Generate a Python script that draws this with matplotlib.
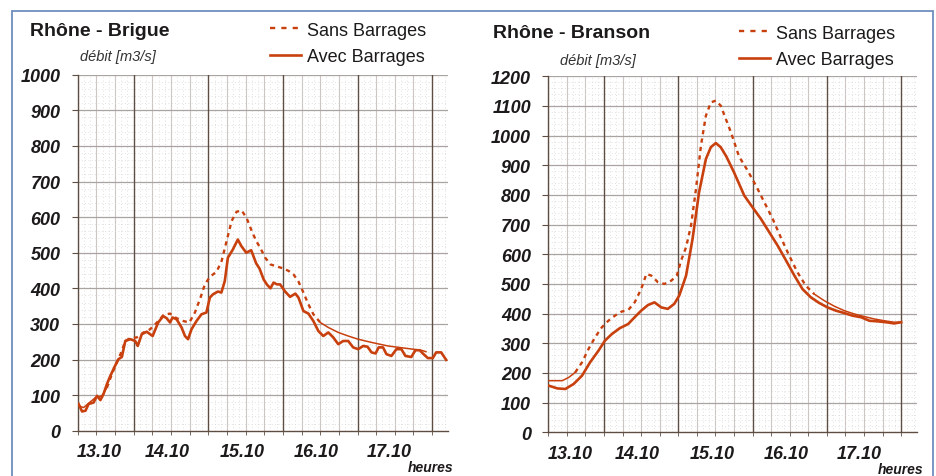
import numpy as np
import matplotlib.pyplot as plt
from matplotlib.lines import Line2D
from matplotlib.patches import Rectangle

plt.rcParams['font.family'] = ['Liberation Sans', 'DejaVu Sans']

# time axis: hours counted from 13.10 00:00
brigue_sans_h = [6.3, 7.9, 9.5, 11.7, 13.8, 15.4, 17.0, 18.6, 20.2, 21.3, 22.9, 25.0, 27.2, 29.3,
                 31.5, 33.6, 35.7, 37.8, 40.0, 41.9, 43.7, 45.5, 46.9, 48.5, 50.7, 52.3, 53.9, 55.5,
                 57.1, 58.7, 60.3, 62.2, 63.6, 64.7, 66.3, 68.0, 69.5, 72.0, 73.8, 75.4, 77.0, 78.6,
                 80.2, 81.8, 84.0, 86.6, 89.8, 93.0, 96.2, 100.5, 105.8, 111.1, 116.5, 118.0]
brigue_sans_q = [70, 65, 77, 93, 98, 121, 159, 192, 224, 252, 260, 262, 276, 285,
                 304, 325, 329, 316, 308, 304, 332, 374, 411, 432, 447, 477, 533, 589,
                 615, 619, 598, 556, 530, 514, 486, 467, 463, 456, 449, 439, 419, 388,
                 355, 327, 304, 290, 276, 266, 257, 248, 238, 232, 226, 222]

brigue_avec_h = [6.3, 7.4, 8.5, 9.5, 11.1, 12.2, 13.3, 14.3, 15.4, 16.5, 18.0, 19.1, 20.2, 21.3,
                 22.9, 24.5, 25.3, 26.6, 28.2, 29.3, 30.1, 31.9, 33.5, 34.6, 35.7, 36.5, 37.8, 39.4,
                 40.5, 41.5, 42.6, 44.2, 45.8, 47.4, 48.5, 49.5, 51.1, 52.2, 53.3, 54.3, 55.9, 57.5,
                 58.6, 60.2, 61.8, 63.4, 64.5, 65.8, 66.9, 68.0, 69.0, 70.1, 71.1, 72.7, 74.3, 76.0,
                 77.0, 78.6, 80.2, 81.8, 83.4, 85.0, 86.6, 88.2, 89.8, 91.4, 93.0, 94.6, 96.2, 97.8,
                 99.2, 100.5, 101.8, 102.8, 104.2, 105.3, 106.9, 108.5, 110.1, 111.4, 113.3, 114.6,
                 116.0, 117.0, 118.6, 120.2, 121.3, 122.9, 124.5]
brigue_avec_q = [75, 54, 56, 75, 79, 98, 86, 103, 131, 154, 182, 201, 207, 252,
                 257, 252, 238, 271, 278, 271, 266, 304, 322, 316, 304, 318, 313, 290,
                 266, 257, 285, 308, 327, 332, 374, 383, 391, 388, 420, 486, 509, 537,
                 519, 500, 507, 470, 455, 425, 410, 400, 416, 411, 411, 391, 376, 385,
                 374, 336, 329, 308, 280, 266, 276, 262, 243, 252, 252, 234, 229, 238,
                 236, 220, 217, 234, 234, 215, 210, 229, 229, 210, 207, 226,
                 226, 217, 204, 204, 220, 220, 199]

branson_sans_h = [6.2, 8.3, 10.5, 12.6, 14.7, 16.9, 19.0, 21.1, 23.3, 25.4, 27.5, 29.7, 31.8, 33.9,
                  36.0, 37.7, 39.3, 41.4, 43.5, 45.7, 47.5, 48.9, 50.5, 52.1, 53.7, 55.3, 56.9, 58.5,
                  60.1, 61.7, 63.2, 65.0, 67.6, 70.4, 73.1, 75.8, 78.5, 81.1, 83.8, 86.5, 89.2, 91.9,
                  95.1, 98.4, 101.6, 104.8, 108.1, 111.3, 114.5, 117.7, 120.0]
branson_sans_q = [174, 174, 174, 185, 202, 236, 281, 320, 354, 376, 393, 407, 412, 438,
                  483, 534, 528, 506, 500, 511, 528, 579, 624, 697, 820, 966, 1067, 1112,
                  1118, 1101, 1060, 1011, 930, 882, 831, 775, 719, 657, 596, 539, 494, 466,
                  444, 425, 410, 399, 390, 382, 376, 371, 371]

branson_avec_h = [6.2, 8.9, 11.5, 14.2, 16.9, 19.5, 22.2, 24.3, 26.5, 29.1, 31.8, 33.9, 36.0, 38.2,
                  40.3, 42.5, 44.6, 46.7, 48.3, 50.5, 52.6, 54.7, 56.9, 58.5, 60.1, 61.7, 63.5, 66.0,
                  69.3, 72.0, 74.7, 77.4, 80.1, 82.8, 85.5, 88.1, 90.8, 93.5, 96.2, 98.9, 101.6, 104.3,
                  107.0, 109.7, 112.4, 115.1, 117.7, 120.0]
branson_avec_q = [157, 148, 146, 163, 191, 236, 275, 309, 331, 351, 365, 388, 410, 429,
                  438, 421, 416, 433, 461, 528, 652, 809, 921, 961, 975, 961, 930, 876,
                  798, 758, 719, 674, 629, 579, 528, 483, 455, 436, 421, 410, 402, 393,
                  388, 376, 374, 371, 367, 371]

day_labels = ['13.10', '14.10', '15.10', '16.10', '17.10']
day_label_pos = [13.0, 34.7, 58.8, 82.7, 106.3]

LINE_COLOR = '#c8400e'
DARK = '#5e4d43'
TXT = '#1c1a1a'

W, H = 936, 477


def fx(px):
    return px / W


def fy(py):
    return 1 - py / H


def draw_grid(ax, ymax):
    # vertical: 2h dotted, 6h light, day boundaries dark
    for h in np.arange(6, 126, 2):
        if h % 24 == 0:
            ax.axvline(h, color=DARK, lw=1.0, zorder=1)
        elif h % 6 == 0:
            ax.axvline(h, color='#cdc6c3', lw=0.8, zorder=0)
        else:
            ax.axvline(h, color='#d6d6d6', lw=0.6, ls=(0, (1, 3)), zorder=0)
    # horizontal: 20 dotted, 100 solid
    for q in range(20, ymax + 1, 20):
        if q % 100 == 0:
            ax.axhline(q, color='#aba3a1', lw=0.9, zorder=0)
        else:
            ax.axhline(q, color='#d6d6d6', lw=0.6, ls=(0, (1, 3)), zorder=0)


def plot_sans(ax, h, q, dash_from, dash_to):
    # the original chart shows dashes only on the steep part of the curve
    h = np.asarray(h)
    q = np.asarray(q)
    i0 = int(np.argmax(h >= dash_from))
    i1 = int(np.nonzero(h <= dash_to)[0][-1])
    ax.plot(h[:i0 + 1], q[:i0 + 1], color=LINE_COLOR, lw=1.1, zorder=3)
    ax.plot(h[i0:i1 + 1], q[i0:i1 + 1], color=LINE_COLOR, lw=1.7, ls=(0, (1.8, 1.8)), zorder=3)
    ax.plot(h[i1:], q[i1:], color=LINE_COLOR, lw=1.1, zorder=3)


def draw_panel(fig, rect, title, sans_h, sans_q, avec_h, avec_q, ymax, dash_from, dash_to,
               title_xy, unit_xy, legend_xy, heures_xy):
    ax = fig.add_axes(rect)
    ax.set_xlim(6, 125)
    ax.set_ylim(0, ymax)
    draw_grid(ax, ymax)

    plot_sans(ax, sans_h, sans_q, dash_from, dash_to)
    ax.plot(avec_h, avec_q, color=LINE_COLOR, lw=1.9, zorder=4)

    # axes and ticks
    for s in ['top', 'right']:
        ax.spines[s].set_visible(False)
    for s in ['left', 'bottom']:
        ax.spines[s].set_color(DARK)
        ax.spines[s].set_linewidth(1.0)
    ax.set_yticks(range(0, ymax + 1, 100))
    ax.set_xticks(day_label_pos)
    ax.set_xticklabels(day_labels)
    ax.set_xticks(range(6, 125, 6), minor=True)
    ax.tick_params(axis='x', which='major', length=0, pad=9)
    ax.tick_params(axis='x', which='minor', length=3, color=DARK, direction='out')
    ax.tick_params(axis='y', length=4.5, color=DARK, direction='out', pad=8)
    plt.setp(ax.get_xticklabels() + ax.get_yticklabels(), fontsize=13, fontweight='bold',
             fontstyle='italic', color=TXT)

    # texts
    fig.text(fx(title_xy[0]), fy(title_xy[1]), title, fontsize=14, fontweight='bold',
             color=TXT, va='center')
    fig.text(fx(unit_xy[0]), fy(unit_xy[1]), 'débit [m3/s]', fontsize=10.5, fontstyle='italic',
             color='#333333', va='center')
    fig.text(fx(heures_xy[0]), fy(heures_xy[1]), 'heures', fontsize=10, fontweight='bold',
             fontstyle='italic', color=TXT, ha='right', va='center')

    handles = [Line2D([], [], color=LINE_COLOR, lw=1.7, ls=(0, (2.2, 2.6))),
               Line2D([], [], color=LINE_COLOR, lw=1.9)]
    leg = fig.legend(handles, ['Sans Barrages', 'Avec Barrages'], loc='center left',
                     bbox_to_anchor=(fx(legend_xy[0]), fy(legend_xy[1])),
                     frameon=False, fontsize=13, borderpad=0, handlelength=1.7,
                     handletextpad=0.35, labelspacing=0.55, borderaxespad=0)
    for t in leg.get_texts():
        t.set_color(TXT)
    return ax


fig = plt.figure(figsize=(W / 100, H / 100), dpi=100)

# outer blue frame
fig.add_artist(Rectangle((fx(12), -0.05), fx(933 - 12), fy(11.5) + 0.05,
                         transform=fig.transFigure, fill=False, ec='#6f8dbd', lw=1.3))

draw_panel(fig, [fx(77.7), fy(431.7), fx(370), 356 / H], 'Rhône - Brigue',
           brigue_sans_h, brigue_sans_q, brigue_avec_h, brigue_avec_q, 1000, 14, 84,
           (30, 32), (80, 57), (270, 44.5), (453, 467.7))
draw_panel(fig, [fx(548.3), fy(433.3), fx(368.4), 356 / H], 'Rhône - Branson',
           branson_sans_h, branson_sans_q, branson_avec_h, branson_avec_q, 1200, 14, 92,
           (492.7, 34), (560, 61), (739, 47.5), (923, 470))

fig.savefig('out.png', dpi=100)
